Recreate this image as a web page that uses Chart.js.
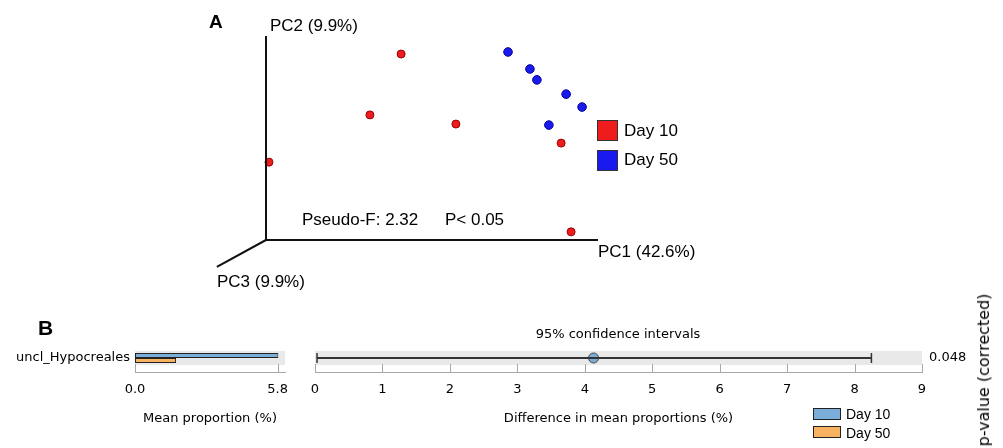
<!DOCTYPE html>
<html>
<head>
<meta charset="utf-8">
<script src="https://cdn.jsdelivr.net/npm/chart.js@4/dist/chart.umd.min.js"></script>
<style>
body { margin: 0; width: 1003px; height: 448px; overflow: hidden; background: #fff; position: relative; font-family: "Liberation Sans", Arial, sans-serif; }
canvas { position: absolute; left: 0; top: 0; }
.t { position: absolute; white-space: nowrap; line-height: 1; color: #000; }
.pa { font-size: 17px; }
.dv { font-family: "DejaVu Sans", sans-serif; font-size: 13px; }
.sw { position: absolute; box-sizing: border-box; }
</style>
</head>
<body>
<canvas id="pcoa" width="1003" height="300"></canvas>
<canvas id="meanChart" width="1003" height="448"></canvas>
<canvas id="diffChart" width="1003" height="448"></canvas>

<div class="t" style="left:209px;top:12px;font-size:19px;font-weight:bold;">A</div>
<div class="t pa" style="left:270px;top:17px;">PC2 (9.9%)</div>
<div class="t pa" style="left:598px;top:243px;">PC1 (42.6%)</div>
<div class="t pa" style="left:217px;top:273px;">PC3 (9.9%)</div>
<div class="t pa" style="left:302px;top:211px;">Pseudo-F: 2.32</div>
<div class="t pa" style="left:445px;top:211px;">P&lt; 0.05</div>
<div id="legendA"></div>

<div class="t" style="left:38px;top:317px;font-size:21px;font-weight:bold;">B</div>
<div class="t dv" style="left:618px;top:327px;transform:translateX(-50%);">95% confidence intervals</div>
<div class="t dv" style="left:984px;top:370px;font-size:16px;transform:translate(-50%,-50%) rotate(-90deg);">p-value (corrected)</div>
<div id="legendB"></div>

<script>
// Panel A: PCoA sample scores (PC1 / PC2 units of the drawing)
var day10PC1 = [4.07, 3.13, 5.72, 0.09, 8.89, 9.19];
var day10PC2 = [5.47, 3.68, 3.41, 2.29, 2.85, 0.24];
var day50PC1 = [7.29, 7.95, 8.16, 9.04, 9.52, 8.52];
var day50PC2 = [5.53, 5.03, 4.71, 4.29, 3.91, 3.38];
var pc1Range = [0, 10];
var pc2Range = [0, 6];
var pc3End = [-1.48, -0.79];

// Panel B: extended error bar (mean proportions and difference CI)
var taxa = ['uncl_Hypocreales'];
var groups = ['Day 10', 'Day 50'];
var meanDay10 = [5.83];
var meanDay50 = [1.67];
var meanTicks = [0, 5.8];
var diffMean = [4.13];
var ciLow = [0.03];
var ciHigh = [8.25];
var pValues = ['0.048'];

// colours
var pointFill = ['#ee1c1c', '#1a1aee'];
var pointEdge = ['#9a0000', '#00009a'];
var barFill = ['#7aaed8', '#f7b262'];

function pairs(xs, ys) {
    return xs.map(function(x, i){ return {x: x, y: ys[i]}; });
}

// legend for panel A
var legA = document.getElementById('legendA');
groups.forEach(function(g, i){
    legA.innerHTML += '<div class="sw" style="left:597px;top:' + (120 + i * 30) + 'px;width:21px;height:21px;background:' + pointFill[i] + ';border:1px solid #333;"></div>'
        + '<div class="t pa" style="left:624px;top:' + (122 + i * 29) + 'px;">' + g + '</div>';
});

// legend for panel B
var legB = document.getElementById('legendB');
groups.forEach(function(g, i){
    legB.innerHTML += '<div class="sw" style="left:813px;top:' + (408 + i * 18) + 'px;width:28px;height:12px;background:' + barFill[i] + ';border:1.5px solid #222;"></div>'
        + '<div class="t" style="left:846px;top:' + (407 + i * 19) + 'px;font-size:14px;">' + g + '</div>';
});

// PCoA chart
new Chart(document.getElementById('pcoa'), {
    type: 'scatter',
    data: {
        datasets: [
            {
                label: 'PC2/PC1 axes',
                data: [{x: pc1Range[0], y: pc2Range[1]}, {x: pc1Range[0], y: pc2Range[0]}, {x: pc1Range[1], y: pc2Range[0]}],
                showLine: true, borderColor: '#111', borderWidth: 2, borderJoinStyle: 'miter',
                pointRadius: 0, clip: false
            },
            {
                label: 'PC3 axis',
                data: [{x: pc1Range[0], y: pc2Range[0]}, {x: pc3End[0], y: pc3End[1]}],
                showLine: true, borderColor: '#111', borderWidth: 2,
                pointRadius: 0, clip: false
            },
            {
                label: groups[0], data: pairs(day10PC1, day10PC2),
                backgroundColor: pointFill[0], borderColor: pointEdge[0], borderWidth: 1,
                pointRadius: 4, clip: false
            },
            {
                label: groups[1], data: pairs(day50PC1, day50PC2),
                backgroundColor: pointFill[1], borderColor: pointEdge[1], borderWidth: 1,
                pointRadius: 4.3, clip: false
            }
        ]
    },
    options: {
        responsive: false,
        animation: false,
        layout: { padding: { left: 266, right: 405, top: 36, bottom: 60 } },
        scales: {
            x: { type: 'linear', min: pc1Range[0], max: pc1Range[1], display: false },
            y: { type: 'linear', min: pc2Range[0], max: pc2Range[1], display: false }
        },
        plugins: { legend: { display: false }, tooltip: { enabled: false } }
    }
});

// grey row band + upward tick marks (STAMP look)
var rowBand = {
    id: 'rowBand',
    beforeDatasetsDraw: function(chart){
        var a = chart.chartArea, ctx = chart.ctx;
        var h = a.bottom - a.top;
        var yc = (a.top + a.bottom) / 2;
        ctx.save();
        ctx.fillStyle = '#e9e9e9';
        ctx.fillRect(a.left, yc - h / 4, a.right - a.left, h / 2);
        var xs = chart.scales.x;
        ctx.strokeStyle = '#a8a8a8';
        ctx.lineWidth = 1;
        xs.ticks.forEach(function(t){
            var px = Math.round(xs.getPixelForValue(t.value)) + 0.5;
            ctx.beginPath();
            ctx.moveTo(px, a.bottom);
            ctx.lineTo(px, a.bottom - 8);
            ctx.stroke();
        });
        ctx.restore();
    }
};

var dvFont = { family: 'DejaVu Sans', size: 13 };

// mean proportion bars
new Chart(document.getElementById('meanChart'), {
    type: 'bar',
    data: {
        labels: taxa,
        datasets: [
            { label: groups[0], data: meanDay10, backgroundColor: barFill[0], borderColor: '#222', borderWidth: 1, borderSkipped: false },
            { label: groups[1], data: meanDay50, backgroundColor: barFill[1], borderColor: '#222', borderWidth: 1, borderSkipped: false }
        ]
    },
    options: {
        responsive: false,
        animation: false,
        indexAxis: 'y',
        categoryPercentage: 0.36,
        barPercentage: 1,
        layout: { padding: { left: 0, right: 718, top: 344, bottom: 0 } },
        scales: {
            x: {
                min: 0, max: 6.1,
                afterBuildTicks: function(s){ s.ticks = meanTicks.map(function(v){ return {value: v}; }); },
                afterFit: function(s){ s.height = 76; },
                ticks: { font: dvFont, color: '#000', padding: 10, maxRotation: 0,
                    callback: function(v){ return Number(v).toFixed(1); } },
                grid: { display: false, drawTicks: false },
                border: { color: '#a8a8a8', width: 1 },
                title: { display: true, text: 'Mean proportion (%)', font: dvFont, color: '#000', padding: { top: 0, bottom: 22 } }
            },
            y: {
                afterFit: function(s){ s.width = 135; },
                ticks: { font: dvFont, color: '#000', padding: 5 },
                grid: { display: false, drawTicks: false },
                border: { display: false }
            }
        },
        plugins: { legend: { display: false }, tooltip: { enabled: false } }
    },
    plugins: [rowBand]
});

// difference in mean proportions with 95% CI
new Chart(document.getElementById('diffChart'), {
    type: 'scatter',
    data: {
        datasets: [
            {
                label: '95% CI',
                data: [{x: ciLow[0], y: taxa[0]}, {x: ciHigh[0], y: taxa[0]}],
                showLine: true, borderColor: '#333', borderWidth: 2,
                pointStyle: 'line', pointRotation: 90, pointRadius: 5,
                pointBorderColor: '#333', pointBorderWidth: 1.5
            },
            {
                label: 'difference',
                data: [{x: diffMean[0], y: taxa[0]}],
                backgroundColor: barFill[0], borderColor: '#444', borderWidth: 1,
                pointRadius: 5
            }
        ]
    },
    options: {
        responsive: false,
        animation: false,
        layout: { padding: { left: 315, right: 21, top: 344, bottom: 0 } },
        scales: {
            x: {
                type: 'linear', min: 0, max: 9,
                afterFit: function(s){ s.height = 76; },
                ticks: { stepSize: 1, font: dvFont, color: '#000', padding: 10, maxRotation: 0 },
                grid: { display: false, drawTicks: false },
                border: { color: '#a8a8a8', width: 1 },
                title: { display: true, text: 'Difference in mean proportions (%)', font: dvFont, color: '#000', padding: { top: 0, bottom: 22 } }
            },
            y: { type: 'category', labels: taxa, offset: true, display: false },
            y2: {
                type: 'category', position: 'right', labels: pValues, offset: true,
                afterFit: function(s){ s.width = 60; },
                ticks: { font: dvFont, color: '#000', padding: 7 },
                grid: { display: false, drawTicks: false },
                border: { display: false }
            }
        },
        plugins: { legend: { display: false }, tooltip: { enabled: false } }
    },
    plugins: [rowBand]
});
</script>
</body>
</html>
